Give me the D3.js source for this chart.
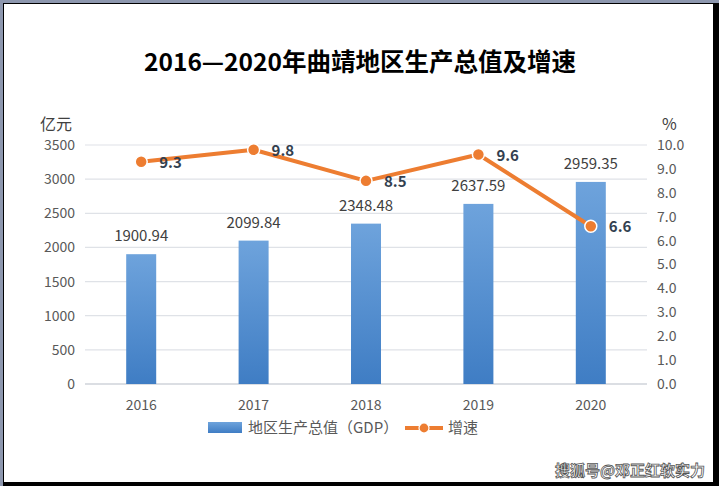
<!DOCTYPE html>
<html>
<head>
<meta charset="utf-8">
<script src="https://cdn.jsdelivr.net/npm/d3@7"></script>
<style>
  body { margin: 0; background: #8d97ae; }
  svg { display: block; }
  text { font-family: "Noto Sans CJK SC", "Noto Sans", sans-serif; }
</style>
</head>
<body>
<div class="chart"></div>
<script>
// chart data
var years = ["2016", "2017", "2018", "2019", "2020"];
var gdp = [1900.94, 2099.84, 2348.48, 2637.59, 2959.35];
var growth = [9.3, 9.8, 8.5, 9.6, 6.6];
var leftTicks = [0, 500, 1000, 1500, 2000, 2500, 3000, 3500];
var rightTicks = [0, 1, 2, 3, 4, 5, 6, 7, 8, 9, 10];

var svgWidth = 719;
var svgHeight = 486;

var margin = { top: 145, right: 72, bottom: 102, left: 85 };
var width = svgWidth - margin.left - margin.right;
var height = svgHeight - margin.top - margin.bottom;

var svg = d3.select(".chart")
  .append("svg")
  .attr("width", svgWidth)
  .attr("height", svgHeight);

// frame: gray backdrop, black shadow, white panel
svg.append("rect").attr("x", 0).attr("y", 0).attr("width", svgWidth).attr("height", svgHeight).attr("fill", "#8d97ae");
svg.append("rect").attr("x", 3).attr("y", 3).attr("width", svgWidth - 3).attr("height", svgHeight - 3).attr("fill", "#000");
svg.append("rect").attr("x", 4).attr("y", 4).attr("width", 709).attr("height", 478).attr("fill", "#fff");

var defs = svg.append("defs");
var grad = defs.append("linearGradient")
  .attr("id", "barGrad")
  .attr("x1", 0).attr("y1", 0).attr("x2", 0).attr("y2", 1);
grad.append("stop").attr("offset", "0%").attr("stop-color", "#6ea3dc");
grad.append("stop").attr("offset", "100%").attr("stop-color", "#3f7dc4");

// title
svg.append("text")
  .attr("x", 360)
  .attr("y", 71)
  .attr("text-anchor", "middle")
  .attr("font-size", "24.5px")
  .attr("font-weight", "bold")
  .attr("fill", "#000")
  .text("2016—2020年曲靖地区生产总值及增速");

var chart = svg.append("g")
  .attr("transform", "translate(" + margin.left + "," + margin.top + ")");

var xBand = d3.scaleBand().domain(years).range([0, width]);
var yLeft = d3.scaleLinear().domain([0, 3500]).range([height, 0]);
var yRight = d3.scaleLinear().domain([0, 10]).range([height, 0]);

// gridlines
chart.append("g")
  .selectAll("line")
  .data(leftTicks)
  .enter()
  .append("line")
  .attr("x1", 0)
  .attr("x2", width)
  .attr("y1", function(d) { return yLeft(d); })
  .attr("y2", function(d) { return yLeft(d); })
  .attr("stroke", function(d) { return d === 0 ? "#cfd3da" : "#dfe2e7"; })
  .attr("stroke-width", function(d) { return d === 0 ? 1.5 : 1.2; });

// left axis
var leftAxis = d3.axisLeft(yLeft).tickValues(leftTicks).tickSize(0).tickPadding(10)
  .tickFormat(function(d) { return d; });
var gl = chart.append("g").call(leftAxis);
gl.select(".domain").remove();
gl.selectAll("text").attr("font-size", "14px").attr("fill", "#595959");

// right axis
var rightAxis = d3.axisRight(yRight).tickValues(rightTicks).tickSize(0).tickPadding(10)
  .tickFormat(function(d) { return d.toFixed(1); });
var gr = chart.append("g").attr("transform", "translate(" + width + ",0)").call(rightAxis);
gr.select(".domain").remove();
gr.selectAll("text").attr("font-size", "14px").attr("fill", "#595959");

// bottom axis
var bottomAxis = d3.axisBottom(xBand).tickSize(0).tickPadding(16);
var gb = chart.append("g").attr("transform", "translate(0," + height + ")").call(bottomAxis);
gb.select(".domain").remove();
gb.selectAll("text").attr("font-size", "14px").attr("fill", "#595959");

// unit labels
svg.append("text").attr("x", 40).attr("y", 130).attr("font-size", "16px").attr("fill", "#404040").text("亿元");
svg.append("text").attr("x", 662).attr("y", 130).attr("font-size", "16px").attr("fill", "#404040").text("%");

// bars
var barW = 30;
chart.selectAll(".bar")
  .data(gdp)
  .enter()
  .append("rect")
  .attr("class", "bar")
  .attr("x", function(d, i) { return xBand(years[i]) + xBand.bandwidth() / 2 - barW / 2; })
  .attr("y", function(d) { return yLeft(d); })
  .attr("width", barW)
  .attr("height", function(d) { return height - yLeft(d); })
  .attr("fill", "url(#barGrad)");

chart.selectAll(".bar-label")
  .data(gdp)
  .enter()
  .append("text")
  .attr("class", "bar-label")
  .attr("x", function(d, i) { return xBand(years[i]) + xBand.bandwidth() / 2; })
  .attr("y", function(d) { return yLeft(d) - 13; })
  .attr("text-anchor", "middle")
  .attr("font-size", "15px")
  .attr("fill", "#404040")
  .text(function(d) { return d.toFixed(2); });

// growth line
var line = d3.line()
  .x(function(d, i) { return xBand(years[i]) + xBand.bandwidth() / 2; })
  .y(function(d) { return yRight(d); });

chart.append("path")
  .datum(growth)
  .attr("d", line)
  .attr("fill", "none")
  .attr("stroke", "#ed7d31")
  .attr("stroke-width", 4)
  .attr("stroke-linejoin", "round");

chart.selectAll(".dot")
  .data(growth)
  .enter()
  .append("circle")
  .attr("class", "dot")
  .attr("cx", function(d, i) { return xBand(years[i]) + xBand.bandwidth() / 2; })
  .attr("cy", function(d) { return yRight(d); })
  .attr("r", 6)
  .attr("fill", "#ed7d31")
  .attr("stroke", "#fff")
  .attr("stroke-width", 1.5);

chart.selectAll(".dot-label")
  .data(growth)
  .enter()
  .append("text")
  .attr("class", "dot-label")
  .attr("x", function(d, i) { return xBand(years[i]) + xBand.bandwidth() / 2 + 18; })
  .attr("y", function(d) { return yRight(d) + 6; })
  .attr("font-size", "15px")
  .attr("font-weight", "bold")
  .attr("fill", "#333f50")
  .text(function(d) { return d.toFixed(1); });

// legend
var legend = svg.append("g");
legend.append("rect").attr("x", 208).attr("y", 422).attr("width", 34).attr("height", 11).attr("fill", "url(#barGrad)");
legend.append("text").attr("x", 248).attr("y", 433).attr("font-size", "15px").attr("fill", "#595959").text("地区生产总值（GDP）");
legend.append("line").attr("x1", 405).attr("x2", 443).attr("y1", 428).attr("y2", 428).attr("stroke", "#ed7d31").attr("stroke-width", 4);
legend.append("circle").attr("cx", 424).attr("cy", 428).attr("r", 5).attr("fill", "#ed7d31").attr("stroke", "#fff").attr("stroke-width", 1.2);
legend.append("text").attr("x", 448).attr("y", 433).attr("font-size", "15px").attr("fill", "#595959").text("增速");

// watermark
svg.append("text")
  .attr("x", 705)
  .attr("y", 476)
  .attr("text-anchor", "end")
  .attr("font-size", "15px")
  .attr("font-weight", "bold")
  .attr("fill", "#fff")
  .attr("stroke", "#555")
  .attr("stroke-width", 0.8)
  .text("搜狐号@邓正红软实力");
</script>
</body>
</html>
